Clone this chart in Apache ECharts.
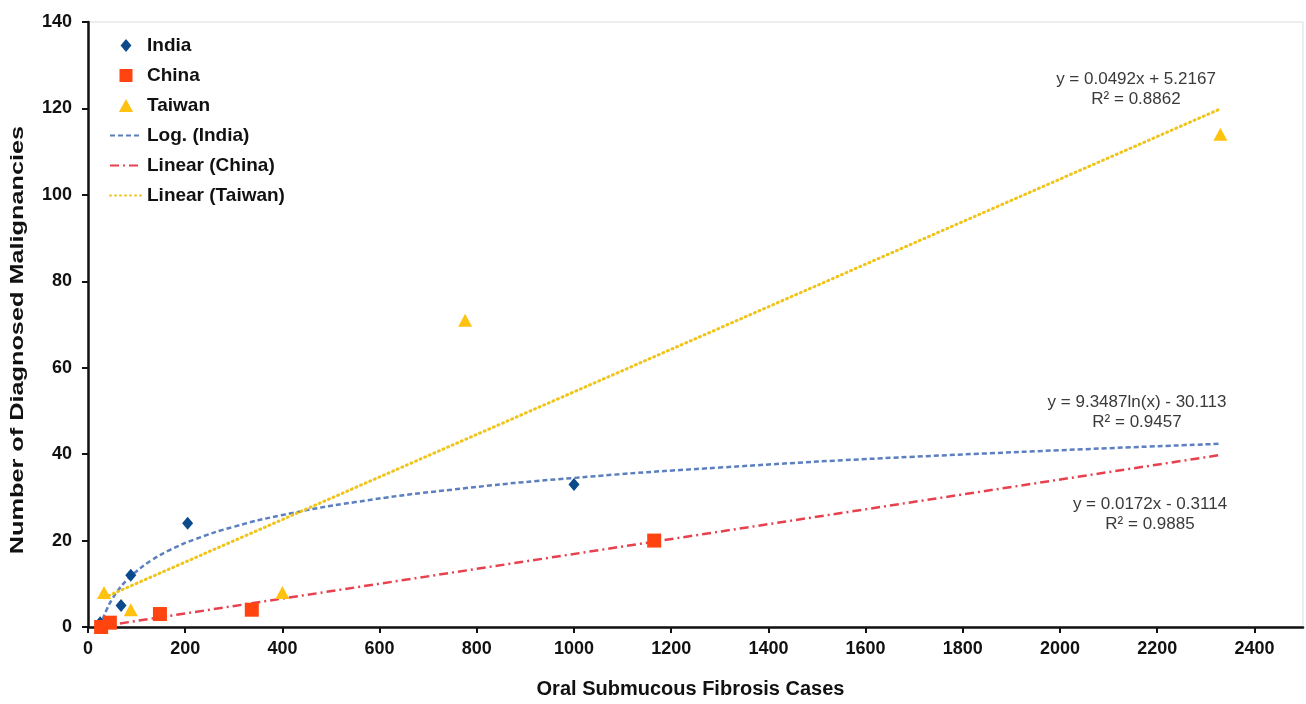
<!DOCTYPE html>
<html>
<head>
<meta charset="utf-8">
<script src="https://cdn.jsdelivr.net/npm/echarts@6/dist/echarts.min.js"></script>
<style>
html,body{margin:0;padding:0;background:#fff;}
#chart{width:1306px;height:704px;}
</style>
</head>
<body>
<div id="chart"></div>
<script>
// ---- data ----
var indiaPts  = [[25, 1], [68, 5], [88, 12], [205, 24], [1000, 33]];
var chinaPts  = [[27, 0], [45, 1], [148, 3], [337, 4], [1165, 20]];
var taiwanPts = [[33, 8], [88, 4], [400, 8], [776, 71], [2330, 114]];

// trend lines
var logIndiaX = [25, 30, 40, 50, 60, 80, 100, 130, 170, 220, 300, 400, 550, 750, 1000, 1300, 1700, 2330];
var logIndiaY = [0, 1.7, 4.4, 6.5, 8.2, 10.9, 12.9, 15.4, 17.9, 20.3, 23.2, 25.9, 28.9, 31.8, 34.5, 36.9, 39.4, 42.4];
var linChinaX = [27, 2330];
var linChinaY = [0.15, 39.8];
var linTaiwanX = [33, 2330];
var linTaiwanY = [6.8, 119.9];

var xTicks = [0, 200, 400, 600, 800, 1000, 1200, 1400, 1600, 1800, 2000, 2200, 2400];
var yTicks = [0, 20, 40, 60, 80, 100, 120, 140];

var eqTaiwan = ['y = 0.0492x + 5.2167', 'R² = 0.8862'];
var eqIndia  = ['y = 9.3487ln(x) - 30.113', 'R² = 0.9457'];
var eqChina  = ['y = 0.0172x - 0.3114', 'R² = 0.9885'];

var xTitle = 'Oral Submucous Fibrosis Cases';
var yTitle = 'Number of Diagnosed Malignancies';

function zip(xs, ys) { return xs.map(function (x, i) { return [x, ys[i]]; }); }

var FONT = '"Liberation Sans", Arial, sans-serif';
var chart = echarts.init(document.getElementById('chart'));

function eqText(lines, x, y) {
  return {
    type: 'text', x: x, y: y,
    style: { text: lines.join('\n'), font: '17px ' + FONT, fill: '#3a3a3a',
             textAlign: 'center', textVerticalAlign: 'top', lineHeight: 20 }
  };
}

var noSym = { color: 'rgba(0,0,0,0)', borderWidth: 0, opacity: 0 };

chart.setOption({
  backgroundColor: '#fff',
  animation: false,
  grid: { left: 88, right: 3, top: 22, bottom: 77, show: true, borderColor: '#dcdcdc', borderWidth: 1 },
  legend: {
    orient: 'vertical', left: 104, top: 31,
    itemWidth: 32, itemHeight: 13, itemGap: 11,
    textStyle: { fontFamily: FONT, fontWeight: 'bold', fontSize: 19, color: '#111' },
    data: [
      { name: 'India', icon: 'path://M5,0L10,6L5,12L0,6Z' },
      { name: 'China', icon: 'path://M0,0H10V10H0Z' },
      { name: 'Taiwan', icon: 'path://M6,0L12,11L0,11Z' },
      { name: 'Log. (India)', itemStyle: noSym },
      { name: 'Linear (China)', itemStyle: noSym },
      { name: 'Linear (Taiwan)', itemStyle: noSym }
    ]
  },
  xAxis: {
    type: 'value', min: 0, max: 2500, interval: 200,
    name: xTitle, nameLocation: 'middle', nameGap: 52,
    nameTextStyle: { fontFamily: FONT, fontWeight: 'bold', fontSize: 20, color: '#111', padding: [0, 10, 0, 0] },
    axisLine: { lineStyle: { color: '#111', width: 2.5 } },
    axisTick: { show: true, inside: false, length: 6, lineStyle: { color: '#111', width: 2 }, customValues: xTicks },
    axisLabel: { fontFamily: FONT, fontWeight: 'bold', fontSize: 18, color: '#111', margin: 13,
                 customValues: xTicks, formatter: function (v) { return String(v); } },
    splitLine: { show: false }
  },
  yAxis: {
    type: 'value', min: 0, max: 140, interval: 20,
    axisLine: { show: true, lineStyle: { color: '#111', width: 2.5 } },
    axisTick: { show: true, inside: false, length: 6, lineStyle: { color: '#111', width: 2 }, customValues: yTicks },
    axisLabel: { fontFamily: FONT, fontWeight: 'bold', fontSize: 18, color: '#111', margin: 16,
                 customValues: yTicks, formatter: function (v) { return String(v); } },
    splitLine: { show: false }
  },
  series: [
    { name: 'Log. (India)', type: 'line', data: zip(logIndiaX, logIndiaY), smooth: true, symbol: 'none', z: 2,
      lineStyle: { color: '#5b7fbf', width: 2.5, type: [5, 3] }, itemStyle: { color: '#5b7fbf' } },
    { name: 'Linear (China)', type: 'line', data: zip(linChinaX, linChinaY), symbol: 'none', z: 2,
      lineStyle: { color: '#e8414e', width: 2.5, type: [9, 4, 2, 4] }, itemStyle: { color: '#e8414e' } },
    { name: 'Linear (Taiwan)', type: 'line', data: zip(linTaiwanX, linTaiwanY), symbol: 'none', z: 2,
      lineStyle: { color: '#f0c419', width: 3, type: [1, 4], cap: 'round' }, itemStyle: { color: '#f0c419' } },
    { name: 'India', type: 'scatter', data: indiaPts, symbol: 'diamond', symbolSize: [11, 13], z: 3,
      itemStyle: { color: '#0b4a8b', opacity: 1 } },
    { name: 'China', type: 'scatter', data: chinaPts, symbol: 'rect', symbolSize: 14, z: 3,
      itemStyle: { color: '#ff4410', opacity: 1 } },
    { name: 'Taiwan', type: 'scatter', data: taiwanPts, symbol: 'triangle', symbolSize: [14, 13], z: 3,
      itemStyle: { color: '#ffc20e', opacity: 1 } }
  ],
  graphic: [
    eqText(eqTaiwan, 1136, 69),
    eqText(eqIndia, 1137, 392),
    eqText(eqChina, 1150, 494),
    {
      type: 'text', x: 18, y: 340, rotation: Math.PI / 2, scaleX: 1.33,
      style: { text: yTitle, font: 'bold 19px ' + FONT, fill: '#111', textAlign: 'center', textVerticalAlign: 'middle' }
    }
  ]
});
</script>
</body>
</html>
